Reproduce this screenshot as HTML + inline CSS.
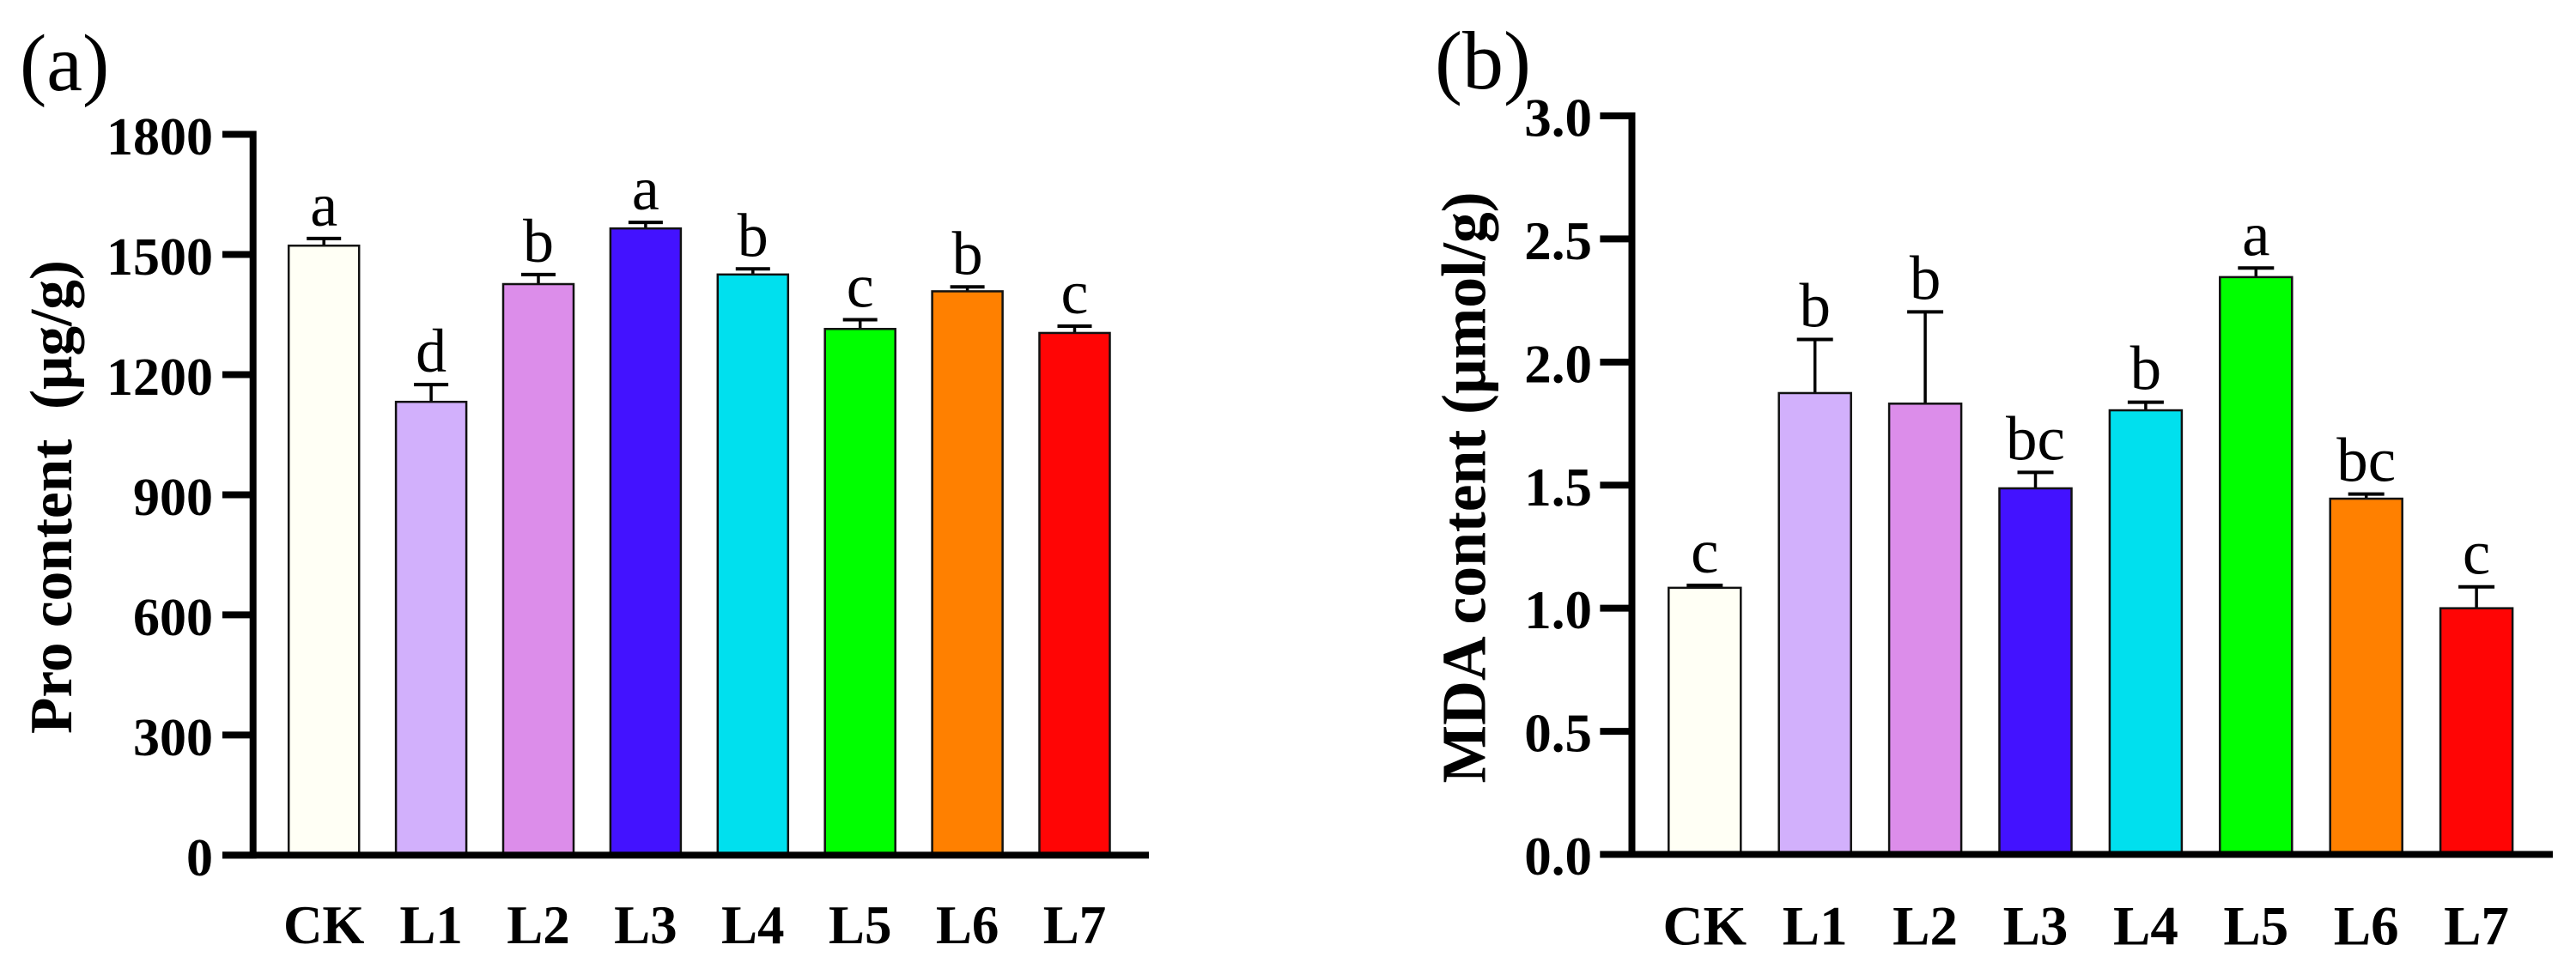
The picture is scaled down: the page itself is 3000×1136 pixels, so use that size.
<!DOCTYPE html>
<html lang="en">
<head>
<meta charset="utf-8">
<title>Pro and MDA content</title>
<style>
html,body{margin:0;padding:0;background:#fff;}
body{width:3000px;height:1136px;overflow:hidden;}
svg{display:block;font-family:"Liberation Serif","Times New Roman",serif;}
</style>
</head>
<body>
<svg id="figure" xmlns="http://www.w3.org/2000/svg" width="3000" height="1136" viewBox="0 0 3000 1136">
  <rect x="0" y="0" width="3000" height="1136" fill="#ffffff"/>
  <text x="23" y="105" font-size="94">(a)</text>
  <text x="1671" y="103" font-size="96">(b)</text>
  <text transform="translate(83,579) rotate(-90)" text-anchor="middle" font-size="70" font-weight="bold" textLength="552" lengthAdjust="spacingAndGlyphs">Pro content&#160;&#160;(μg/g)</text>
  <text transform="translate(1729.5,568) rotate(-90)" text-anchor="middle" font-size="73" font-weight="bold" textLength="689" lengthAdjust="spacingAndGlyphs">MDA content (μmol/g)</text>
  <g id="panel-a"></g>
  <g id="panel-b"></g>
</svg>
<script>
const categories = ['CK', 'L1', 'L2', 'L3', 'L4', 'L5', 'L6', 'L7'];
const barColors = ['#FFFFF5', '#D2B0FC', '#DC8DEA', '#4312FF', '#00E0EE', '#00FF00', '#FF8000', '#FF0505'];

const proTicks = [0, 300, 600, 900, 1200, 1500, 1800];
const proValues = [1522, 1132, 1426, 1565, 1450, 1314, 1408, 1304];
const proErrors = [18, 43, 24, 15, 14, 23, 11, 17];
const proLetters = ['a', 'd', 'b', 'a', 'b', 'c', 'b', 'c'];

const mdaTicks = [0, 0.5, 1, 1.5, 2, 2.5, 3];
const mdaValues = [1.083, 1.874, 1.831, 1.487, 1.804, 2.345, 1.445, 1.0];
const mdaErrors = [0.01, 0.218, 0.373, 0.065, 0.033, 0.037, 0.019, 0.087];
const mdaLetters = ['c', 'b', 'b', 'bc', 'b', 'a', 'bc', 'c'];

const SVG_NS = 'http://www.w3.org/2000/svg';

function make(parent, tag, attrs, content) {
  const node = document.createElementNS(SVG_NS, tag);
  Object.keys(attrs).forEach(function (k) { node.setAttribute(k, attrs[k]); });
  if (content !== undefined) node.textContent = content;
  parent.appendChild(node);
  return node;
}

function drawChart(root, cfg) {
  const yScale = function (v) {
    return cfg.y0 + (cfg.yTop - cfg.y0) * (v / cfg.max);
  };
  const xScale = function (i) {
    return cfg.x0 + cfg.step * i;
  };

  cfg.values.forEach(function (v, i) {
    const cx = xScale(i);
    const top = yScale(v);
    const capY = yScale(v + cfg.errors[i]);

    const stem = make(root, 'line', { x1: cx, x2: cx, y1: top, y2: capY, stroke: '#000', 'stroke-width': 3.5 });
    
    

    const cap = make(root, 'line', { x1: cx - cfg.capW / 2, x2: cx + cfg.capW / 2, y1: capY, y2: capY, stroke: '#000', 'stroke-width': 4 });
    
    

    const bar = make(root, 'rect', { x: cx - cfg.barW / 2, y: top, width: cfg.barW, height: cfg.y0 - top, fill: barColors[i], stroke: '#111', 'stroke-width': 2.5 });
    
    

    const letter = make(root, 'text', { x: cx, y: capY - cfg.letterGap, 'text-anchor': 'middle', 'font-size': cfg.letterSize }, cfg.letters[i]);
    
    

    const label = make(root, 'text', { x: cx, y: cfg.xLabelY, 'text-anchor': 'middle', 'font-size': cfg.xLabelSize, 'font-weight': 'bold' }, categories[i]);
    
    
  });

  const yAxis = make(root, 'line', { x1: cfg.axisX, x2: cfg.axisX, y1: yScale(cfg.max) - cfg.thick / 2, y2: cfg.y0 + cfg.thick / 2, stroke: '#000', 'stroke-width': cfg.thick });
  
  

  const xAxis = make(root, 'line', { x1: cfg.tickLeft, x2: cfg.xEnd, y1: cfg.y0, y2: cfg.y0, stroke: '#000', 'stroke-width': cfg.thick });
  
  

  cfg.ticks.forEach(function (t) {
    const ty = yScale(t);
    const tick = make(root, 'line', { x1: cfg.tickLeft, x2: cfg.axisX, y1: ty, y2: ty, stroke: '#000', 'stroke-width': cfg.thick });
    
    

    const text = cfg.decimals ? t.toFixed(cfg.decimals) : String(t);
    const tl = make(root, 'text', { x: cfg.tickLabelX, y: ty + 23.5, 'text-anchor': 'end', 'font-size': cfg.tickSize, 'font-weight': 'bold' }, text);
    
    
  });
}

drawChart(document.getElementById('panel-a'), {
  values: proValues, errors: proErrors, letters: proLetters, ticks: proTicks,
  max: 1800, decimals: 0,
  y0: 996.4, yTop: 156.5,
  x0: 377.2, step: 124.9, barW: 82, capW: 40,
  axisX: 294.7, tickLeft: 259, xEnd: 1338, thick: 8,
  tickLabelX: 248, tickSize: 62,
  xLabelY: 1099, xLabelSize: 63,
  letterGap: 15, letterSize: 72
});

drawChart(document.getElementById('panel-b'), {
  values: mdaValues, errors: mdaErrors, letters: mdaLetters, ticks: mdaTicks,
  max: 3, decimals: 1,
  y0: 995.5, yTop: 135,
  x0: 1985.3, step: 128.4, barW: 84, capW: 42,
  axisX: 1900.5, tickLeft: 1863.4, xEnd: 2973, thick: 8,
  tickLabelX: 1854, tickSize: 63,
  xLabelY: 1100.5, xLabelSize: 65,
  letterGap: 15, letterSize: 73
});
</script>
</body>
</html>
